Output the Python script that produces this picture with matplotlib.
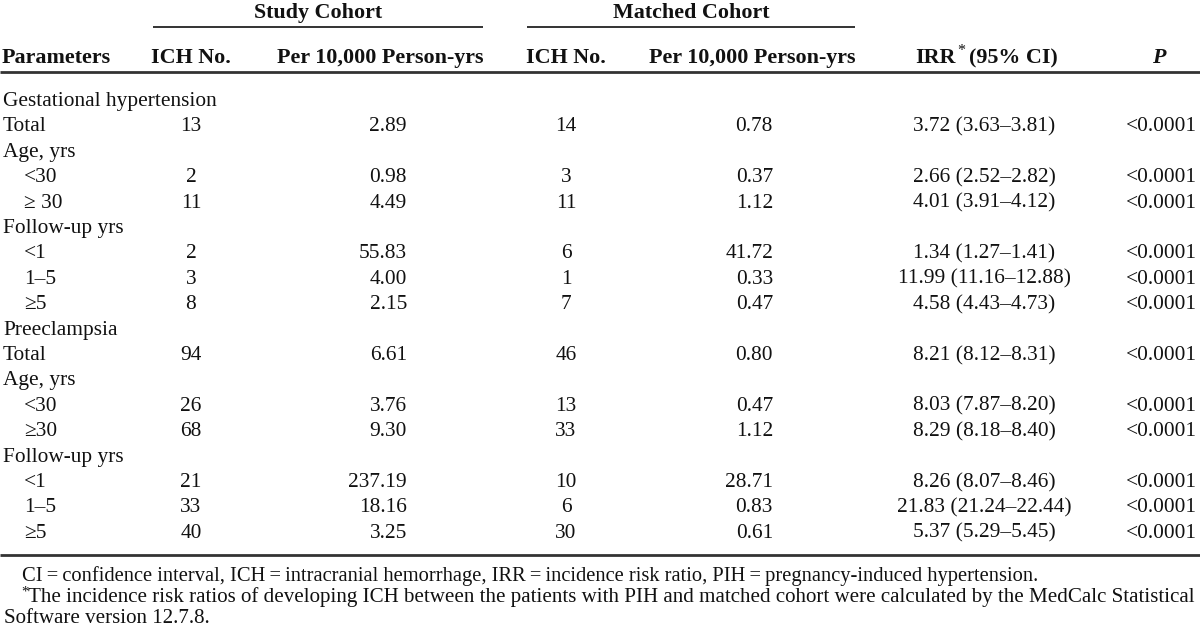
import matplotlib
matplotlib.use("Agg")
import matplotlib.pyplot as plt

# ---------------- data ----------------
row_labels = ["Gestational hypertension", "Total", "Age, yrs", "<30", "\u2265 30",
              "Follow-up yrs", "<1", "1\u20135", "\u22655",
              "Preeclampsia", "Total", "Age, yrs", "<30", "\u226530",
              "Follow-up yrs", "<1", "1\u20135", "\u22655"]
row_indent = [0, 0, 0, 1, 1, 0, 1, 1, 1, 0, 0, 0, 1, 1, 0, 1, 1, 1]
study_ich = ["", "13", "", "2", "11", "", "2", "3", "8",
             "", "94", "", "26", "68", "", "21", "33", "40"]
study_rate = ["", "2.89", "", "0.98", "4.49", "", "55.83", "4.00", "2.15",
              "", "6.61", "", "3.76", "9.30", "", "237.19", "18.16", "3.25"]
matched_ich = ["", "14", "", "3", "11", "", "6", "1", "7",
               "", "46", "", "13", "33", "", "10", "6", "30"]
matched_rate = ["", "0.78", "", "0.37", "1.12", "", "41.72", "0.33", "0.47",
                "", "0.80", "", "0.47", "1.12", "", "28.71", "0.83", "0.61"]
irr_ci = ["", "3.72 (3.63\u20133.81)", "", "2.66 (2.52\u20132.82)", "4.01 (3.91\u20134.12)", "",
          "1.34 (1.27\u20131.41)", "11.99 (11.16\u201312.88)", "4.58 (4.43\u20134.73)",
          "", "8.21 (8.12\u20138.31)", "", "8.03 (7.87\u20138.20)", "8.29 (8.18\u20138.40)", "",
          "8.26 (8.07\u20138.46)", "21.83 (21.24\u201322.44)", "5.37 (5.29\u20135.45)"]
p_values = ["", "<0.0001", "", "<0.0001", "<0.0001", "", "<0.0001", "<0.0001", "<0.0001",
            "", "<0.0001", "", "<0.0001", "<0.0001", "", "<0.0001", "<0.0001", "<0.0001"]
spanners = ["Study Cohort", "Matched Cohort"]
col_headers = ["Parameters", "ICH No.", "Per 10,000 Person-yrs", "ICH No.",
               "Per 10,000 Person-yrs", "IRR", "(95% CI)", "P"]
foot1 = ("CI\u2009=\u2009confidence interval, ICH\u2009=\u2009intracranial hemorrhage, "
         "IRR\u2009=\u2009incidence risk ratio, PIH\u2009=\u2009pregnancy-induced hypertension.")
foot2 = ("The incidence risk ratios of developing ICH between the patients with PIH and "
         "matched cohort were calculated by the MedCalc Statistical")
foot3 = "Software version 12.7.8."

# ---------------- layout ----------------
FONT = "Liberation Serif"
FS = 15.4
HFS = 15.8
W, H = 1200, 628
fig = plt.figure(figsize=(W / 100, H / 100), dpi=100)
ax = fig.add_axes([0, 0, 1, 1])
ax.set_xlim(0, W)
ax.set_ylim(H, 0)
ax.axis("off")

def txt(x, y, s, ha="left", **kw):
    kw.setdefault("fontsize", FS)
    return ax.text(x, y, s, ha=ha, va="baseline", family=FONT, color="#111111", **kw)

def htxt(x, y, s, ha="center", **kw):
    kw.setdefault("fontsize", HFS)
    return txt(x, y, s, ha=ha, fontweight="bold", **kw)

# spanner headings and rules
htxt(318, 18, spanners[0])
htxt(691, 18, spanners[1])
ax.plot([153, 483], [26.5, 26.5], color="#333333", lw=1.4, solid_capstyle="butt")
ax.plot([527, 855], [26.5, 26.5], color="#333333", lw=1.4, solid_capstyle="butt")

# column headers
hy = 63
htxt(2, hy, col_headers[0], ha="left")
htxt(191, hy, col_headers[1])
htxt(380, hy, col_headers[2])
htxt(566, hy, col_headers[3])
htxt(752, hy, col_headers[4])
htxt(956, hy, col_headers[5], ha="right")
txt(957, hy - 8, "*", fontsize=FS * 0.75)
htxt(969, hy, col_headers[6], ha="left")
htxt(1159, hy, col_headers[7], style="italic")
ax.plot([0, W], [72, 72], color="#333333", lw=2.0, solid_capstyle="butt")

# body
y0, dy = 106, 25.4
for i, lab in enumerate(row_labels):
    y = y0 + dy * i
    txt(3 + 21 * row_indent[i], y, lab)
    txt(191, y, study_ich[i], ha="center")
    txt(407, y, study_rate[i], ha="right")
    txt(566, y, matched_ich[i], ha="center")
    txt(773, y, matched_rate[i], ha="right")
    txt(984, y, irr_ci[i], ha="center")
    txt(1197, y, p_values[i], ha="right")

ax.plot([0, W], [555, 555], color="#333333", lw=2.0, solid_capstyle="butt")

# footnotes
txt(22, 581, foot1, fontsize=14.8)
txt(21, 596, "*", fontsize=10.5)
txt(28, 602, foot2, fontsize=15.1)
txt(4, 623, foot3, fontsize=15.1)

fig.savefig("out.png", dpi=100, facecolor="white")
